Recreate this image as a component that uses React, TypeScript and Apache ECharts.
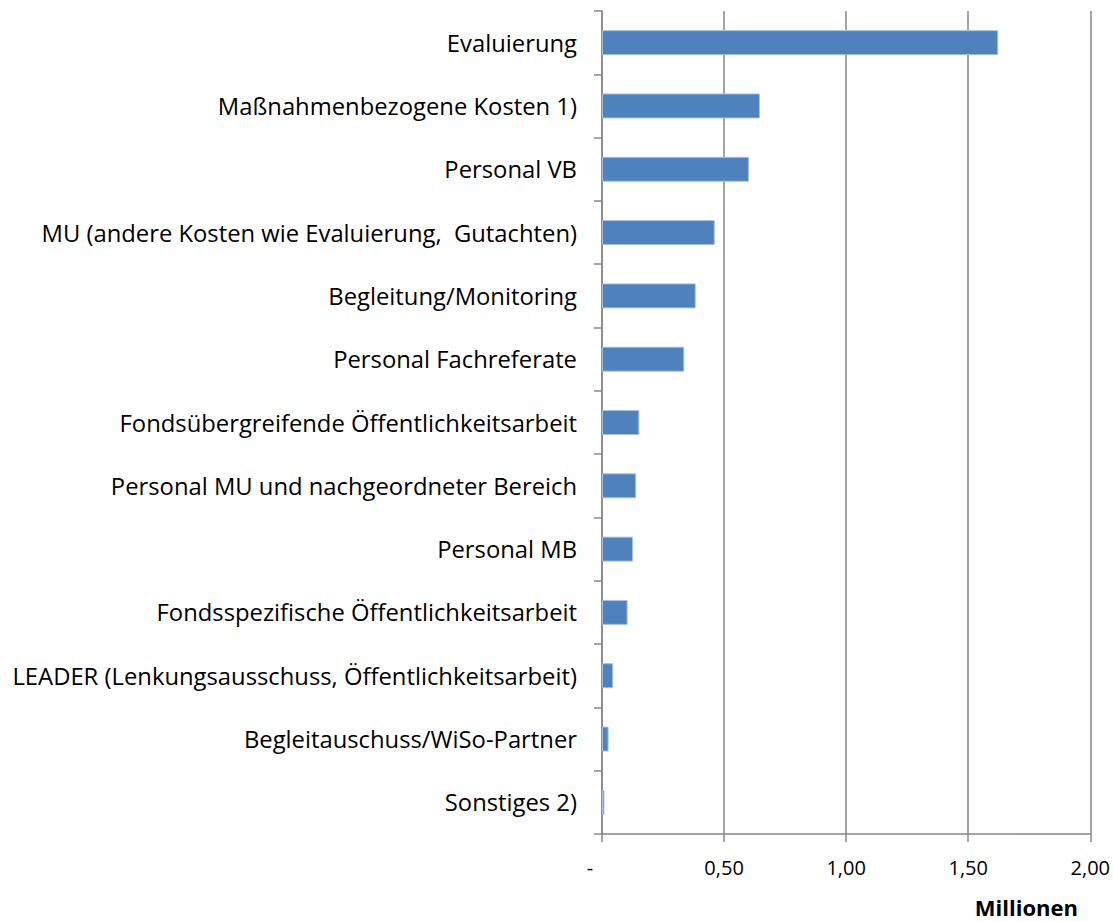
import React, { useEffect, useRef } from "react";
import * as echarts from "echarts";

const categories = [
  "Evaluierung",
  "Maßnahmenbezogene Kosten 1)",
  "Personal VB",
  "MU (andere Kosten wie Evaluierung,  Gutachten)",
  "Begleitung/Monitoring",
  "Personal Fachreferate",
  "Fondsübergreifende Öffentlichkeitsarbeit",
  "Personal MU und nachgeordneter Bereich",
  "Personal MB",
  "Fondsspezifische Öffentlichkeitsarbeit",
  "LEADER (Lenkungsausschuss, Öffentlichkeitsarbeit)",
  "Begleitauschuss/WiSo-Partner",
  "Sonstiges 2)",
];

const values = [1.623, 0.647, 0.602, 0.462, 0.384, 0.337, 0.153, 0.14, 0.127, 0.105, 0.046, 0.027, 0.01];

const xTickLabels: Record<string, string> = {
  "0": "-",
  "0.5": "0,50",
  "1": "1,00",
  "1.5": "1,50",
  "2": "2,00",
};

const unitLabel = "Millionen";

const FONT = "'Open Sans', sans-serif";
const GRAY = "#878787";

export default function App() {
  const ref = useRef<HTMLDivElement>(null);
  useEffect(() => {
    if (!ref.current) return;
    const chart = echarts.init(ref.current, null, { renderer: "svg" });
    chart.setOption({
      animation: false,
      backgroundColor: "#ffffff",
      grid: { left: 602, right: 22, top: 11, bottom: 88, containLabel: false },
      xAxis: {
        type: "value",
        min: 0,
        max: 2,
        interval: 0.5,
        axisLine: { show: true, lineStyle: { color: GRAY, width: 1.5 } },
        axisTick: { show: true, length: 8, lineStyle: { color: GRAY, width: 1.5 } },
        splitLine: { show: true, lineStyle: { color: GRAY, width: 1.5 } },
        axisLabel: {
          margin: 23,
          color: "#000",
          fontSize: 20,
          fontFamily: FONT,
          formatter: (v: number) => {
            const s = xTickLabels[String(v)] ?? String(v);
            return v === 0 ? "{d|" + s + "}" : s;
          },
          rich: {
            d: { fontSize: 20, fontFamily: FONT, color: "#000", padding: [0, 24, 0, 0] },
          },
        },
      },
      yAxis: {
        type: "category",
        data: categories,
        inverse: true,
        axisLine: { show: true, lineStyle: { color: GRAY, width: 1.5 } },
        axisTick: { show: true, length: 8, lineStyle: { color: GRAY, width: 1.5 } },
        splitLine: { show: false },
        axisLabel: {
          margin: 25,
          color: "#000",
          fontSize: 23.8,
          fontFamily: FONT,
        },
      },
      graphic: [
        {
          type: "text",
          x: 1078,
          y: 896,
          style: {
            text: unitLabel,
            fontSize: 22,
            fontWeight: "bold",
            fontFamily: FONT,
            fill: "#000",
            textAlign: "right",
            textVerticalAlign: "top",
          },
        },
      ],
      series: [
        {
          type: "bar",
          data: values,
          barWidth: 25,
          itemStyle: { color: "#4f81bd", borderColor: "#a9c1de", borderWidth: 1 },
        },
      ],
    });
    return () => chart.dispose();
  }, []);
  return (
    <div
      ref={ref}
      style={{ position: "absolute", left: 0, top: 0, width: 1113, height: 922 }}
    />
  );
}
